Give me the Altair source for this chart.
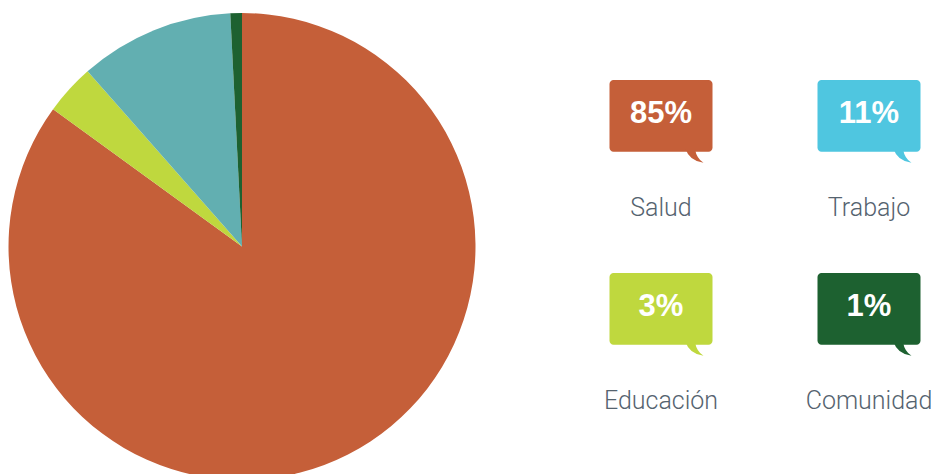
import altair as alt
import pandas as pd

# ---- data ----
categories = ["Salud", "Educación", "Trabajo", "Comunidad"]
slice_values = [85.0, 3.5, 10.7, 0.8]          # share of the pie
pie_colors = ["#c55f39", "#bfd83e", "#62afb1", "#1d6130"]

legend_items = ["Salud", "Trabajo", "Educación", "Comunidad"]
legend_pct = ["85%", "11%", "3%", "1%"]
legend_colors = ["#c55f39", "#4fc6e0", "#bfd83e", "#1d6130"]

# ---- layout (chart pixel coordinates) ----
W, H = 923, 466
PIE_CX, PIE_CY, PIE_R = 234, 238.5, 233.5
COL_X = [653, 861]
ROW_Y = [107.8, 300.8]
BOX_W, BOX_H = 103, 71.7
LABEL_DY = 100.5

pie_df = pd.DataFrame({
    "cat": categories,
    "val": slice_values,
    "col": pie_colors,
    "idx": list(range(len(categories))),
})

rows = []
for i, (name, pct, colr) in enumerate(zip(legend_items, legend_pct, legend_colors)):
    cx = COL_X[i % 2]
    cy = ROW_Y[i // 2]
    rows.append({
        "name": name, "pct": pct, "col": colr,
        "x1": cx - BOX_W / 2, "x2": cx + BOX_W / 2,
        "y1": cy - BOX_H / 2, "y2": cy + BOX_H / 2,
        "cx": cx, "cy": cy,
        "tx": cx + BOX_W / 2 - 18, "ty": cy + BOX_H / 2 + 5.5,
        "ly": cy + LABEL_DY,
    })
leg_df = pd.DataFrame(rows)

xs = alt.Scale(domain=[0, W], range=[0, W])
ys = alt.Scale(domain=[0, H], range=[0, H])

pie = alt.Chart(pie_df).mark_arc(radius=PIE_R, stroke=None).encode(
    theta=alt.Theta("val:Q", stack=True),
    color=alt.Color("col:N", scale=None),
    order=alt.Order("idx:Q"),
    x=alt.value(PIE_CX),
    y=alt.value(PIE_CY),
)

base = alt.Chart(leg_df)

boxes = base.mark_rect(cornerRadius=4).encode(
    x=alt.X("x1:Q", scale=xs, axis=None),
    x2="x2:Q",
    y=alt.Y("y1:Q", scale=ys, axis=None),
    y2="y2:Q",
    color=alt.Color("col:N", scale=None),
)

tail_path = "M -1 -0.9 Q -0.55 0.45 1 0.62 Q 0.25 0.2 0.05 -0.9 Z"
tails = base.mark_point(shape=tail_path, size=324, filled=True, opacity=1, strokeWidth=0).encode(
    x=alt.X("tx:Q", scale=xs, axis=None),
    y=alt.Y("ty:Q", scale=ys, axis=None),
    color=alt.Color("col:N", scale=None),
)

pct_text = base.mark_text(
    font="Liberation Sans", fontWeight="bold", fontSize=31, color="white",
    baseline="middle", align="center", dy=-2,
).encode(
    x=alt.X("cx:Q", scale=xs, axis=None),
    y=alt.Y("cy:Q", scale=ys, axis=None),
    text="pct:N",
)

labels = base.mark_text(
    font="Roboto", fontWeight=300, fontSize=25, color="#55636f",
    baseline="alphabetic", align="center",
).encode(
    x=alt.X("cx:Q", scale=xs, axis=None),
    y=alt.Y("ly:Q", scale=ys, axis=None),
    text="name:N",
)

chart = alt.layer(pie, boxes, tails, pct_text, labels).properties(
    width=W, height=H, padding=0, autosize=alt.AutoSizeParams(type="none"),
).configure_view(stroke=None)

chart.save("out.html", embed_options={"renderer": "svg", "actions": False})
